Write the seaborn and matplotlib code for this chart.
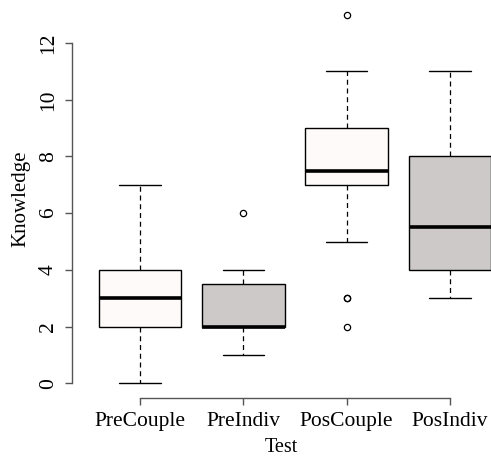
import pandas as pd
import numpy as np
import matplotlib
matplotlib.use('Agg')
import matplotlib.pyplot as plt
import seaborn as sns

# Knowledge scores per test group
groups = ['PreCouple', 'PreIndiv', 'PosCouple', 'PosIndiv']
pre_couple = [0, 1, 2, 2, 2, 3, 3, 3, 4, 4, 4, 5, 7]
pre_indiv = [1, 2, 2, 2, 3, 4, 6]
pos_couple = [2, 3, 3, 5, 7, 7, 7, 7, 7, 8, 8, 9, 9, 9, 10, 11, 11, 13]
pos_indiv = [3, 4, 4, 4, 5, 6, 8, 8, 9, 11]
box_colors = ['#FFFAFA', '#CDC9C9', '#FFFAFA', '#CDC9C9']
y_ticks = [0, 2, 4, 6, 8, 10, 12]

df = pd.DataFrame({
    'Test': (['PreCouple'] * len(pre_couple) + ['PreIndiv'] * len(pre_indiv) +
             ['PosCouple'] * len(pos_couple) + ['PosIndiv'] * len(pos_indiv)),
    'Knowledge': pre_couple + pre_indiv + pos_couple + pos_indiv
})

sns.set_style('white')
plt.rcParams['font.family'] = ['Liberation Serif', 'DejaVu Serif']
plt.rcParams['axes.labelcolor'] = 'black'

fig = plt.figure(figsize=(4.91, 4.59), dpi=100)
ax = fig.add_axes([72 / 491, 61 / 459, 419 / 491, 398 / 459])

sns.boxplot(data=df, x='Test', y='Knowledge', order=groups,
            hue='Test', hue_order=groups, palette=box_colors,
            legend=False, saturation=1, width=0.8, linewidth=1,
            linecolor='black', whis=1.5, ax=ax,
            medianprops=dict(linewidth=2.6, color='black'),
            whiskerprops=dict(linestyle=(0, (4, 3)), linewidth=0.9),
            capprops=dict(linewidth=1),
            flierprops=dict(marker='o', markerfacecolor='none',
                            markeredgecolor='black', markersize=4.5,
                            markeredgewidth=0.9))

ax.set_xlim(-0.658, 3.397)
ax.set_ylim(-0.52, 13.52)
ax.set_yticks(y_ticks)
ax.set_yticklabels([str(v) for v in y_ticks], rotation=90, va='center')

for side in ['top', 'right']:
    ax.spines[side].set_visible(False)
for side in ['left', 'bottom']:
    ax.spines[side].set_color('#555555')
    ax.spines[side].set_linewidth(1)
ax.spines['left'].set_bounds(0, 12)
ax.spines['bottom'].set_bounds(0, 3)

ax.tick_params(axis='both', direction='out', length=5, width=1,
               color='#555555', labelsize=15.5, labelcolor='black')
ax.tick_params(axis='y', pad=5, left=True)
ax.tick_params(axis='x', pad=5, bottom=True)

ax.set_xlabel('Test', fontsize=14.5, labelpad=5)
ax.set_ylabel('Knowledge', fontsize=15, labelpad=6)

plt.savefig('out.png', dpi=100)
